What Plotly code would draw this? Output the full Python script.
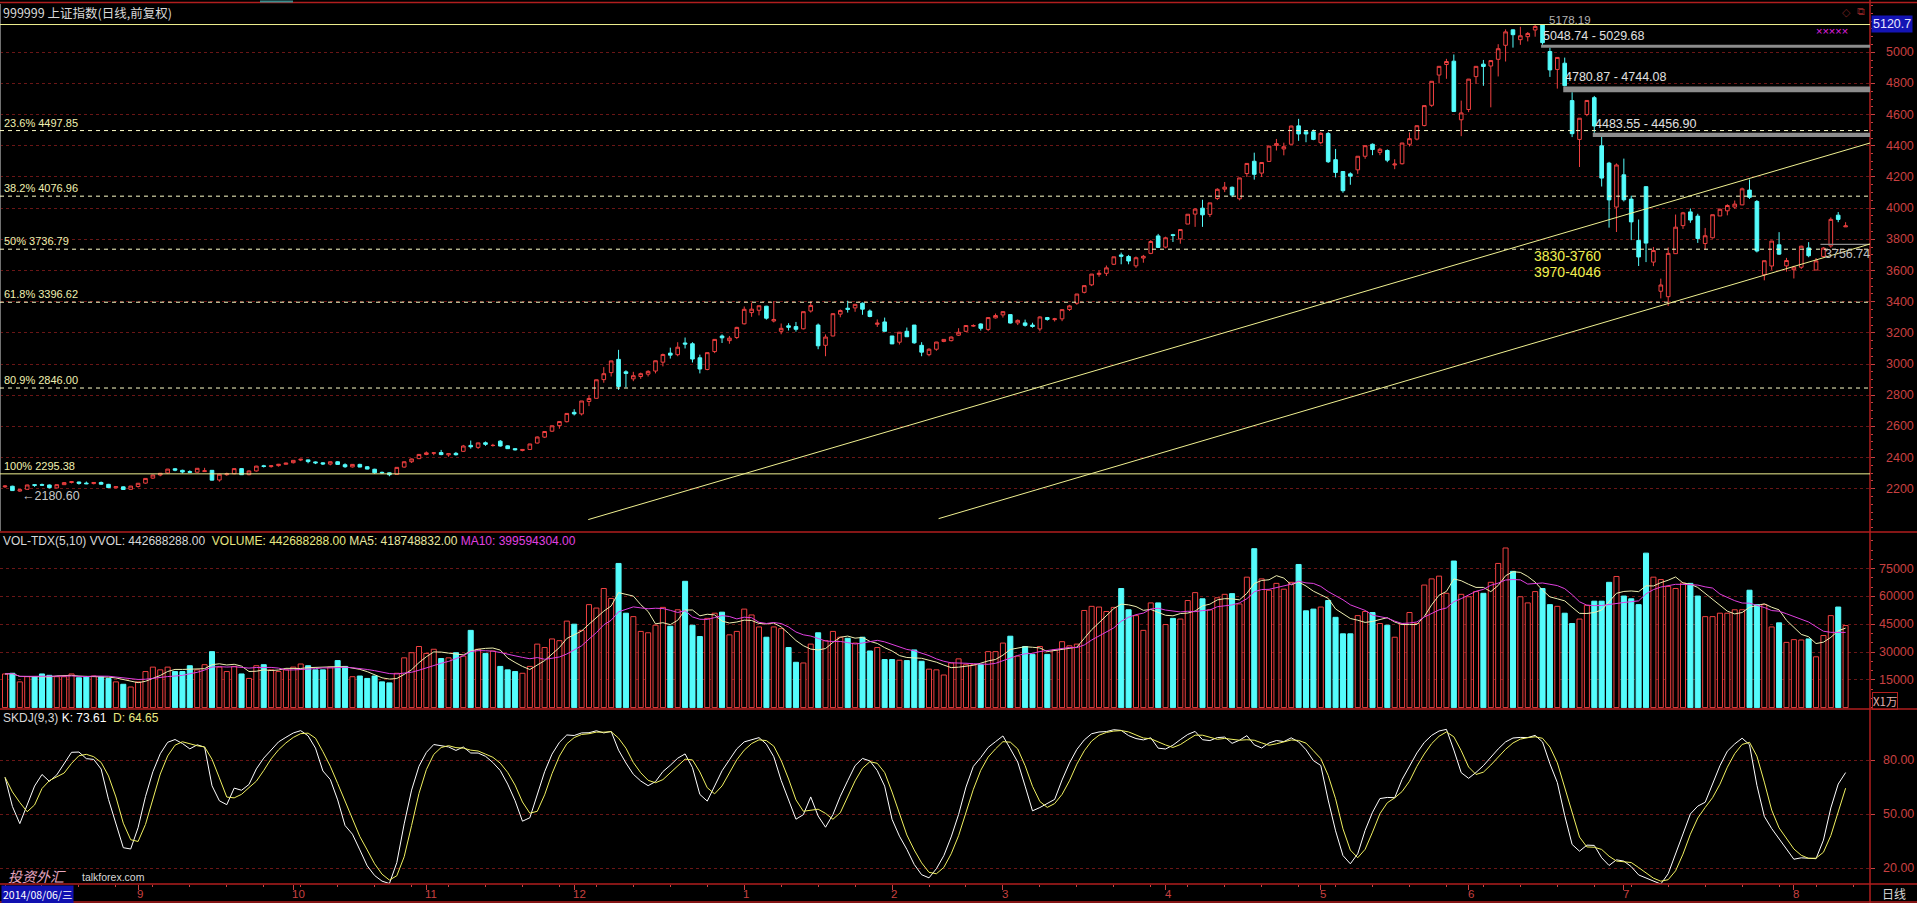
import plotly.graph_objects as go
import pandas as pd

# ---------------- data (SSE Composite 999999, daily, 2014-08-06 .. 2015-08-12) ----------------
opens = [
    2212, 2216, 2185, 2196, 2226, 2226, 2224, 2205, 2226, 2240, 2243, 2236, 2233, 2240, 2228, 2206, 2212, 2196,
    2214, 2236, 2268, 2288, 2301, 2328, 2318, 2310, 2306, 2310, 2318, 2256, 2290, 2296, 2329, 2290, 2314, 2347, 2342, 2348, 2357,
    2367, 2384, 2385, 2372, 2366, 2358, 2373, 2354, 2340, 2356, 2341, 2325, 2305, 2302, 2292, 2339, 2373, 2393,
    2420, 2428, 2432, 2417, 2427, 2440, 2478, 2465, 2495, 2477, 2505, 2475, 2457, 2445, 2452, 2493, 2531, 2569, 2605, 2630,
    2690, 2680, 2760, 2780, 2900, 2945, 3030, 2950, 2905, 2920, 2935, 2955, 3012, 3070, 3060, 3135, 3130, 3040, 2965, 3080, 3180, 3150, 3170,
    3258, 3330, 3345, 3371, 3276, 3210, 3245, 3240, 3226, 3340, 3250, 3120, 3180, 3320, 3358, 3360, 3390, 3340, 3255, 3270,
    3180, 3140, 3210, 3250, 3120, 3060, 3095, 3145, 3150, 3185, 3210, 3243, 3257, 3222, 3296,
    3315, 3317, 3264, 3264, 3250, 3225, 3298, 3285, 3290, 3350, 3390, 3460, 3508, 3575, 3582, 3640, 3700, 3690, 3630, 3680, 3710, 3822,
    3750, 3830, 3803, 3898, 3962, 4000, 3960, 4062, 4122, 4134, 4060, 4222, 4301, 4225, 4300, 4403, 4380, 4410, 4528, 4490, 4490,
    4420, 4479, 4311, 4235, 4220, 4246, 4333, 4410, 4358, 4370, 4277, 4285, 4410, 4443, 4530, 4660, 4854, 4922, 4943, 4567,
    4633, 4844, 4924, 4912, 4955, 5045, 5144, 5081, 5100, 5143, 5175, 5005, 4890, 4930, 4690, 4441, 4601, 4709, 4400, 4289, 4007,
    4214, 4058, 3793, 4138, 3654, 3467, 3432, 3708, 3888, 3976, 3949, 3773, 3810, 3950, 3983, 4007, 4021, 4116, 4043, 3573, 3629, 3765, 3630,
    3605, 3621, 3745, 3603, 3690, 3758, 3955, 3880,
]
highs = [
    2222, 2219, 2197, 2226, 2228, 2233, 2227, 2228, 2242, 2248, 2245, 2246, 2242, 2246, 2231, 2216, 2215, 2218,
    2236, 2266, 2290, 2299, 2327, 2333, 2322, 2318, 2333, 2334, 2320, 2295, 2303, 2330, 2331, 2317, 2347, 2353, 2350, 2359, 2367,
    2382, 2391, 2387, 2375, 2370, 2375, 2376, 2363, 2358, 2360, 2345, 2328, 2310, 2304, 2338, 2375, 2393, 2423,
    2439, 2434, 2449, 2428, 2436, 2481, 2509, 2495, 2503, 2488, 2512, 2478, 2460, 2455, 2488, 2535, 2567, 2604, 2631, 2683,
    2710, 2763, 2799, 2900, 2980, 3021, 3091, 2960, 2950, 2945, 2960, 3022, 3067, 3105, 3140, 3170, 3140, 3060, 3075, 3160, 3190, 3180, 3239,
    3369, 3394, 3374, 3373, 3404, 3260, 3262, 3270, 3336, 3400, 3260, 3190, 3325, 3350, 3406, 3384, 3395, 3350, 3286, 3298,
    3180, 3205, 3234, 3250, 3140, 3101, 3142, 3160, 3177, 3230, 3250, 3255, 3261, 3300, 3324,
    3336, 3317, 3286, 3285, 3265, 3306, 3302, 3296, 3350, 3380, 3450, 3504, 3577, 3600, 3632, 3688, 3715, 3700, 3690, 3700, 3795, 3835,
    3817, 3835, 3866, 3961, 4000, 4054, 4034, 4128, 4168, 4139, 4194, 4288, 4356, 4294, 4398, 4444, 4420, 4529, 4573, 4500, 4504,
    4488, 4489, 4380, 4238, 4230, 4333, 4401, 4415, 4387, 4377, 4314, 4418, 4486, 4530, 4658, 4814, 4911, 4958, 4986, 4690,
    4829, 4911, 4951, 4947, 5052, 5147, 5147, 5164, 5130, 5178.19, 5176, 5029.68, 4968, 4966, 4744.08, 4577, 4691, 4720, 4456.90, 4297, 4287,
    4318, 4080, 3927, 4138, 3751, 3548, 3748, 3959, 3976, 3998, 3964, 3873, 3958, 3998, 4025, 4049, 4132, 4184, 4052, 3663, 3790, 3846, 3681,
    3630, 3759, 3782, 3680, 3750, 3940, 3975, 3910,
]
lows = [
    2205, 2186, 2180.60, 2195, 2212, 2218, 2201, 2203, 2225, 2234, 2226, 2229, 2228, 2226, 2206, 2202, 2194, 2195,
    2207, 2232, 2263, 2280, 2296, 2312, 2298, 2302, 2304, 2308, 2253, 2245, 2283, 2293, 2288, 2286, 2310, 2336, 2335, 2342, 2355,
    2362, 2377, 2363, 2358, 2352, 2350, 2354, 2334, 2336, 2338, 2324, 2295, 2295, 2280, 2290, 2335, 2365, 2390,
    2415, 2415, 2415, 2405, 2413, 2436, 2457, 2455, 2475, 2470, 2470, 2455, 2445, 2440, 2448, 2490, 2525, 2565, 2585, 2625,
    2670, 2670, 2730, 2778, 2880, 2920, 2834, 2850, 2890, 2905, 2920, 2940, 2985, 3035, 3050, 3100, 3010, 2940, 2960, 3070, 3135, 3130, 3160,
    3254, 3303, 3312, 3285, 3267, 3191, 3215, 3208, 3222, 3330, 3095, 3050, 3178, 3300, 3330, 3335, 3316, 3300, 3238, 3210,
    3128, 3125, 3174, 3130, 3050, 3050, 3085, 3140, 3145, 3180, 3205, 3238, 3215, 3211, 3292,
    3298, 3260, 3250, 3240, 3233, 3210, 3278, 3273, 3275, 3340, 3380, 3453, 3500, 3560, 3565, 3635, 3640, 3640, 3617, 3650, 3705, 3745,
    3742, 3783, 3772, 3898, 3880, 3880, 3943, 4052, 4103, 4071, 4050, 4200, 4183, 4200, 4298, 4370, 4339, 4410, 4432, 4423, 4436,
    4410, 4290, 4197, 4099, 4150, 4220, 4317, 4340, 4340, 4295, 4250, 4280, 4396, 4435, 4525, 4650, 4800, 4830, 4617, 4462,
    4616, 4797, 4785, 4647, 4845, 4941, 5030, 5048, 5070, 5100, 5048.74, 4842, 4767, 4780.87, 4456, 4264, 4590, 4483.55, 4139, 3875, 3847,
    4043, 3795, 3629, 3654, 3628, 3421, 3373, 3707, 3867, 3906, 3777, 3735, 3805, 3950, 3954, 3996, 4019, 4059, 3716, 3537, 3604, 3700, 3593,
    3549, 3610, 3685, 3603, 3683, 3746, 3910, 3880,
]
closes = [
    2217, 2188, 2194, 2224, 2222, 2223, 2207, 2226, 2239, 2245, 2234, 2232, 2240, 2229, 2207, 2213, 2195, 2217,
    2235, 2266, 2288, 2299, 2326, 2319, 2307, 2305, 2331, 2315, 2255, 2293, 2296, 2329, 2290, 2314, 2345, 2343, 2347, 2357, 2364,
    2382, 2389, 2374, 2366, 2359, 2373, 2356, 2341, 2356, 2339, 2326, 2302, 2302, 2290, 2337, 2373, 2391, 2420,
    2430, 2430, 2419, 2425, 2418, 2474, 2469, 2494, 2485, 2478, 2474, 2457, 2450, 2452, 2487, 2532, 2567, 2604, 2631, 2683,
    2680, 2763, 2779, 2899, 2938, 3020, 2856, 2940, 2925, 2938, 2953, 3021, 3061, 3057, 3108, 3128, 3032, 2968, 3073, 3158, 3168, 3166, 3235,
    3351, 3352, 3374, 3294, 3286, 3229, 3236, 3223, 3336, 3376, 3117, 3173, 3323, 3343, 3351, 3383, 3352, 3305, 3262, 3210,
    3129, 3204, 3175, 3136, 3076, 3095, 3141, 3158, 3173, 3204, 3247, 3247, 3229, 3298, 3311,
    3336, 3263, 3280, 3248, 3241, 3302, 3286, 3290, 3349, 3373, 3449, 3503, 3577, 3582, 3617, 3688, 3691, 3661, 3682, 3691, 3786, 3748,
    3810, 3825, 3863, 3961, 3994, 3957, 4034, 4121, 4135, 4084, 4194, 4287, 4217, 4293, 4398, 4414, 4394, 4527, 4476, 4476, 4441,
    4480, 4298, 4229, 4112, 4205, 4333, 4401, 4376, 4378, 4308, 4283, 4418, 4446, 4529, 4658, 4814, 4910, 4941, 4620, 4611,
    4828, 4910, 4909, 4947, 5023, 5131, 5113, 5106, 5121, 5166, 5062, 4887, 4967, 4786, 4478, 4577, 4691, 4527, 4193, 4053, 4277,
    4054, 3912, 3687, 3776, 3728, 3507, 3710, 3878, 3970, 3924, 3805, 3823, 3958, 3993, 4017, 4026, 4124, 4070, 3725, 3663, 3789, 3705, 3664,
    3622, 3756, 3695, 3662, 3744, 3928, 3928, 3886,
]
volumes = [  # unit: 10k hands (X1万)
    18150, 18520, 13890, 16670, 16670, 18150, 17410, 16670, 16670, 18150, 16110, 16670, 17040, 16670, 15740, 13890, 12590, 11110,
    13890, 19450, 21850, 20370, 21850, 19450, 19450, 22590, 20370, 23150, 30190, 21850, 19450, 22220, 18150, 15740, 22590, 23150, 20370, 19450, 20370,
    21850, 23520, 22590, 20370, 20370, 21850, 25370, 22220, 16670, 17040, 15740, 17040, 13890, 13330, 18520, 26850, 29630, 32970,
    29260, 31480, 26480, 26850, 29630, 27780, 41670, 31480, 29260, 30560, 22220, 20370, 19450, 18520, 22220, 34260, 32410, 37040, 36110, 46670,
    45000, 41670, 55560, 53710, 64260, 58890, 77780, 50930, 49080, 41110, 40370, 44450, 54080, 43890, 52780, 68150, 44450, 38340, 48150, 50930, 51490, 39260, 41110,
    53150, 50000, 43520, 37970, 43520, 42600, 32410, 24450, 24080, 34260, 40370, 36110, 41110, 37970, 37410, 34820, 37970, 30560, 32410, 25930,
    25930, 25560, 25370, 31110, 25000, 20740, 20370, 17590, 24080, 26300, 23150, 23150, 23150, 30190, 30190,
    34820, 38520, 27780, 32970, 28710, 32970, 28710, 31110, 35560, 33340, 34260, 52410, 54630, 54260, 51860, 54080, 64260, 52780, 49630, 41670, 56490, 56490,
    44820, 48150, 47780, 57780, 62040, 58710, 52780, 59260, 61120, 61490, 55930, 70380, 85750, 69450, 63340, 67040, 63890, 67600, 77230, 52230, 53150,
    54260, 57780, 48710, 39820, 39820, 49630, 51860, 51300, 45370, 44450, 37970, 45000, 51300, 45370, 66120, 69450, 70930, 61670, 79080, 61120,
    59820, 62600, 61670, 67600, 77780, 86120, 73520, 59820, 56490, 62600, 64260, 55560, 54630, 50930, 45370, 47780, 55190, 57410, 57410, 67600, 70750,
    60190, 58710, 55560, 83340, 70380, 69080, 65380, 64260, 67230, 67040, 60190, 49080, 49080, 50930, 50930, 52780, 52780, 63340, 55560, 55560, 43520, 45740, 35190,
    36670, 36480, 37040, 27410, 38890, 49630, 54260, 44269,
]
month_start_idx = [18, 39, 57, 77, 100, 120, 135, 157, 178, 198, 219, 242]
month_labels = ["9", "10", "11", "12", "1", "2", "3", "4", "5", "6", "7", "8"]
price_ticks = [2200, 2400, 2600, 2800, 3000, 3200, 3400, 3600, 3800, 4000, 4200, 4400, 4600, 4800, 5000]
vol_ticks = [15000, 30000, 45000, 60000, 75000]
kdj_ticks = [20, 50, 80]
fib_levels = [4497.85, 4076.96, 3736.79, 3396.62, 2846.00]
fib_labels = ["23.6% 4497.85", "38.2% 4076.96", "50% 3736.79", "61.8% 3396.62", "80.9% 2846.00"]
fib_top = 5178.19
fib_base = 2295.38
fib_base_label = "100% 2295.38"
gap_start_idx = [208, 211, 215]
gap_tops = [5048.74, 4780.87, 4483.55]
gap_bottoms = [5029.68, 4744.08, 4456.90]
gap_labels = ["5048.74 - 5029.68", "4780.87 - 4744.08", "4483.55 - 4456.90"]
last_gap_idx = 246
last_gap_band = [3764, 3772]
last_gap_label = "3756.74"
trend_upper = [(78.9, 2002), (252.3, 4418)]
trend_lower = [(126.3, 2008), (252.3, 3770)]

# ---------------- derived indicators (TDX definitions) ----------------
n = len(closes)
xs = list(range(n))
c = pd.Series(closes, dtype=float)
lo = pd.Series(lows, dtype=float)
hi = pd.Series(highs, dtype=float)
v = pd.Series(volumes, dtype=float)
ma5 = v.rolling(5, min_periods=1).mean()
ma10 = v.rolling(10, min_periods=1).mean()
llv = lo.rolling(9, min_periods=1).min()
hhv = hi.rolling(9, min_periods=1).max()
rsv = ((c - llv) / (hhv - llv) * 100).ewm(span=3, adjust=False).mean()
kline = rsv.ewm(span=3, adjust=False).mean()
dline = kline.rolling(3, min_periods=1).mean()

# ---------------- styling ----------------
UP = "#F04040"
DN = "#54FCFC"
AX = "#C84040"
GRID = "#6A1616"
SEP = "#B01E1E"
FIBC = "#FFFFC8"
YEL = "#F0F090"
TXT = "#D8D8D8"
NUMFONT = "Liberation Sans, Arial, sans-serif"
CJK = "Noto Sans CJK SC, sans-serif"

PLOT_W, PLOT_H = 1870.0, 884.0
def pxx(p):
    return p / PLOT_W
def pxy(p):
    return 1 - p / PLOT_H

XR = [-0.68, 252.3]

fig = go.Figure()
fig.add_trace(go.Candlestick(
    x=xs, open=opens, high=highs, low=lows, close=closes,
    increasing=dict(line=dict(color=UP, width=1), fillcolor="#000000"),
    decreasing=dict(line=dict(color=DN, width=1), fillcolor=DN),
    whiskerwidth=0, hoverinfo="skip", xaxis="x", yaxis="y"))

up_flags = [cl >= op for op, cl in zip(opens, closes)]
fig.add_trace(go.Bar(
    x=xs, y=volumes, width=0.68,
    marker=dict(color=["#000000" if u else DN for u in up_flags],
                line=dict(color=[UP if u else DN for u in up_flags], width=1)),
    hoverinfo="skip", xaxis="x2", yaxis="y2"))
fig.add_trace(go.Scatter(x=xs, y=ma5, mode="lines", line=dict(color="#EEEEB0", width=1),
                         hoverinfo="skip", xaxis="x2", yaxis="y2"))
fig.add_trace(go.Scatter(x=xs, y=ma10, mode="lines", line=dict(color="#E040E0", width=1),
                         hoverinfo="skip", xaxis="x2", yaxis="y2"))
fig.add_trace(go.Scatter(x=xs, y=kline, mode="lines", line=dict(color="#FFFFFF", width=1),
                         hoverinfo="skip", xaxis="x3", yaxis="y3"))
fig.add_trace(go.Scatter(x=xs, y=dline, mode="lines", line=dict(color="#F0F060", width=1),
                         hoverinfo="skip", xaxis="x3", yaxis="y3"))

xcommon = dict(range=XR, showgrid=False, zeroline=False, showticklabels=False, showline=False,
               fixedrange=True)
ycommon = dict(side="right", showticklabels=False, showgrid=True, gridcolor=GRID, griddash="dot",
               gridwidth=1, zeroline=False, ticks="outside", ticklen=4, tickcolor=AX, showline=False,
               tickmode="array", fixedrange=True)

d_price = [pxy(532), pxy(3)]
d_vol = [pxy(709), pxy(532)]
d_kdj = [0, pxy(709)]

fig.update_layout(
    width=1917, height=903, autosize=False,
    margin=dict(l=0, r=47, t=0, b=19, pad=0),
    paper_bgcolor="#000000", plot_bgcolor="#000000",
    showlegend=False, hovermode=False, bargap=0.3,
    xaxis=dict(**xcommon, anchor="y", domain=[0, 1], rangeslider=dict(visible=False)),
    xaxis2=dict(**xcommon, anchor="y2", domain=[0, 1], matches="x"),
    xaxis3=dict(**xcommon, anchor="y3", domain=[0, 1], matches="x", tickmode="array",
                tickvals=month_start_idx, ticks="outside", ticklen=5, tickcolor=AX,
                minor=dict(ticks="outside", ticklen=2, tickcolor=AX, dtick=5, tick0=0)),
    yaxis=dict(**ycommon, domain=d_price, range=[1922.3, 5316.3], tickvals=price_ticks,
               minor=dict(ticks="outside", ticklen=2, tickcolor=AX, dtick=50, tick0=0, showgrid=False)),
    yaxis2=dict(**ycommon, domain=d_vol, range=[-755, 94750], tickvals=vol_ticks,
                minor=dict(ticks="outside", ticklen=2, tickcolor=AX, dtick=5000, tick0=0, showgrid=False)),
    yaxis3=dict(**ycommon, domain=d_kdj, range=[11.1, 108.7], tickvals=kdj_ticks),
)

shapes = []
# panel frame lines
for yy in [2.5, 532, 709, 884, 902]:
    shapes.append(dict(type="line", xref="paper", yref="paper", x0=0, x1=1917 / PLOT_W,
                       y0=pxy(yy), y1=pxy(yy), line=dict(color=SEP, width=1.5)))
shapes.append(dict(type="line", xref="paper", yref="paper", x0=1.0, x1=1.0, y0=pxy(903), y1=1,
                   line=dict(color=SEP, width=1.5)))
shapes.append(dict(type="line", xref="paper", yref="paper", x0=pxx(0.5), x1=pxx(0.5), y0=pxy(531), y1=pxy(4),
                   line=dict(color="#707070", width=1)))
shapes.append(dict(type="line", xref="paper", yref="paper", x0=pxx(260), x1=pxx(293), y0=pxy(1.5), y1=pxy(1.5),
                   line=dict(color="#3A8C8C", width=2)))
# fibonacci lines
for lvl in fib_levels:
    shapes.append(dict(type="line", xref="paper", yref="y", x0=0, x1=1, y0=lvl, y1=lvl,
                       line=dict(color=FIBC, width=1, dash="4px,4px")))
for lvl in [fib_top, fib_base]:
    shapes.append(dict(type="line", xref="paper", yref="y", x0=0, x1=1, y0=lvl, y1=lvl,
                       line=dict(color=YEL, width=1)))
# gap bands
for s, t, b in zip(gap_start_idx, gap_tops, gap_bottoms):
    shapes.append(dict(type="rect", xref="x", yref="y", x0=s - 0.2, x1=XR[1], y0=b, y1=t,
                       fillcolor="#8C8C8C", line=dict(width=0)))
shapes.append(dict(type="rect", xref="x", yref="y", x0=last_gap_idx - 0.4, x1=XR[1],
                   y0=last_gap_band[0], y1=last_gap_band[1], fillcolor="#8C8C8C", line=dict(width=0)))
# trend channel
for (xa, ya), (xb, yb) in [trend_upper, trend_lower]:
    shapes.append(dict(type="line", xref="x", yref="y", x0=xa, y0=ya, x1=xb, y1=yb,
                       line=dict(color=YEL, width=1)))
fig.update_layout(shapes=shapes)

ann = []
def add(text, x, y, xref="paper", yref="paper", xanchor="left", yanchor="middle", color=TXT, size=12,
        family=NUMFONT, **kw):
    ann.append(dict(text=text, x=x, y=y, xref=xref, yref=yref, xanchor=xanchor, yanchor=yanchor,
                    showarrow=False, font=dict(color=color, size=size, family=family), **kw))

RIGHT = 1916 / PLOT_W
for t in price_ticks:
    add(str(t), RIGHT, t, yref="y", xanchor="right", color=AX, size=12.5)
for t in vol_ticks:
    add(str(t), RIGHT, t, yref="y2", xanchor="right", color=AX, size=12.5)
for t in kdj_ticks:
    add(f"{t:.2f}", RIGHT, t, yref="y3", xanchor="right", color=AX, size=12.5)
for idx, lab in zip(month_start_idx, month_labels):
    add(lab, idx, pxy(893.5), xref="x3", color=AX, size=11.5, xshift=-3)

add("5120.7", pxx(1871), pxy(24), color="#E8E8FF", size=12.5, bgcolor="#1414B4", borderpad=1)
add("X1万", pxx(1872), pxy(700.5), color="#E0B0B0", size=11.5, family=CJK, bordercolor=SEP, borderwidth=1,
    borderpad=0)
add("日线", pxx(1880), pxy(893.5), color=TXT, size=12, family=CJK)
add("◇", pxx(1840), pxy(12), color="#702020", size=11, family=NUMFONT)
add("⧉", pxx(1855), pxy(12), color="#802020", size=11, family="DejaVu Sans")
add("×××××", pxx(1814), pxy(31), color="#E020E0", size=11, family=NUMFONT)

add("999999 上证指数(日线,前复权)", pxx(1), pxy(13), color=TXT, size=12.5, family=CJK)
add("VOL-TDX(5,10) VVOL: 442688288.00\u00a0\u00a0<span style='color:#E8E880'>VOLUME: 442688288.00</span>"
    " <span style='color:#E8E8A0'>MA5: 418748832.00</span> <span style='color:#E040E0'>MA10: 399594304.00</span>",
    pxx(1), pxy(541), color=TXT, size=12)
add("SKDJ(9,3) <span style='color:#FFFFFF'>K: 73.61</span>\u00a0\u00a0<span style='color:#E8E880'>D: 64.65</span>",
    pxx(1), pxy(718), color=TXT, size=12)

for lvl, lab in zip(fib_levels, fib_labels):
    add(lab, pxx(2), lvl, yref="y", yanchor="bottom", color="#F0F0B0", size=11)
add(fib_base_label, pxx(2), fib_base, yref="y", yanchor="bottom", color="#F0F0B0", size=11)

for s, t, lab in zip(gap_start_idx, gap_tops, gap_labels):
    add(lab, s - 0.2, t, xref="x", yref="y", yanchor="bottom", color="#E0E0E0", size=12.5)
add("5178.19", 208.6, pxy(20), xref="x", color="#B0B0B0", size=11.5)
add(last_gap_label, last_gap_idx - 0.1, last_gap_band[0], xref="x", yref="y", yanchor="top",
    color="#C0C0C0", size=12.5)
add("←2180.60", 2.0, 2180.6, xref="x", yref="y", yanchor="top", color="#C8C8C8", size=12.5, yshift=5)

add("3830-3760", pxx(1532), pxy(256), color="#F0F050", size=14)
add("3970-4046", pxx(1532), pxy(272), color="#F0F050", size=14)

add("2014/08/06/三", pxx(1), pxy(894), color="#FFFFFF", size=10.5, family=CJK, bgcolor="#1010B0")
add("<i>投资外汇</i>", pxx(6), pxy(876), color="#E8A8C0", size=14, family=CJK)
add("talkforex.com", pxx(80), pxy(877), color="#D8D8D8", size=10.5)

fig.update_layout(annotations=ann)
fig.write_html("out.html", config={"displayModeBar": False})
